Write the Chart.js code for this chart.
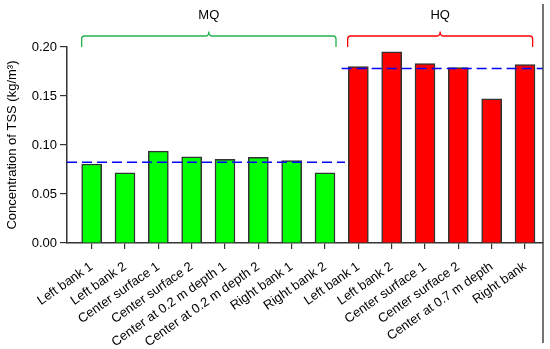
<!DOCTYPE html>
<html>
<head>
<meta charset="utf-8">
<script src="https://cdn.jsdelivr.net/npm/chart.js@4.4.0/dist/chart.umd.min.js"></script>
<style>
  html, body { margin: 0; padding: 0; background: #fff; }
  #wrap { width: 550px; height: 349px; }
</style>
</head>
<body>
<div id="wrap"><canvas id="tssChart" width="550" height="349"></canvas></div>
<script>
// site labels along the x axis
const sites = ['Left bank 1', 'Left bank 2', 'Center surface 1', 'Center surface 2',
  'Center at 0.2 m depth 1', 'Center at 0.2 m depth 2', 'Right bank 1', 'Right bank 2',
  'Left bank 1', 'Left bank 2', 'Center surface 1', 'Center surface 2',
  'Center at 0.7 m depth', 'Right bank'];

// TSS concentration, kg/m3
const mqValues = [0.0806, 0.0717, 0.0937, 0.0880, 0.0854, 0.0874, 0.0840, 0.0716];
const hqValues = [0.180, 0.195, 0.183, 0.179, 0.147, 0.182];

// mean lines (dashed)
const mqMean = 0.0825;
const hqMean = 0.178;

// group spans in category index units
const groupNames = ['MQ', 'HQ'];
const groupStart = [-0.3, 7.68];
const groupEnd = [7.33, 13.23];
const groupColors = ['#22b24c', '#ff0000'];

const yTicks = [0, 0.05, 0.10, 0.15, 0.20];
const xMin = -0.74, xMax = 13.54;

const font = "'Liberation Sans', Arial, sans-serif";

const mqData = mqValues.map((v, i) => ({ x: i, y: v }));
const hqData = hqValues.map((v, i) => ({ x: i + mqValues.length, y: v }));

const extras = {
  id: 'extras',
  afterDraw(chart) {
    const ctx = chart.ctx;
    const xs = chart.scales.x;
    ctx.save();
    // braces with group names
    groupNames.forEach((name, g) => {
      const x1 = xs.getPixelForValue(groupStart[g]);
      const x2 = xs.getPixelForValue(groupEnd[g]);
      const xm = (x1 + x2) / 2;
      const yl = 36, ye = 47, yn = 31.5, r = 3;
      ctx.strokeStyle = groupColors[g];
      ctx.lineWidth = 1.3;
      ctx.beginPath();
      ctx.moveTo(x1, ye);
      ctx.lineTo(x1, yl + r);
      ctx.quadraticCurveTo(x1, yl, x1 + r, yl);
      ctx.lineTo(xm - r, yl);
      ctx.quadraticCurveTo(xm, yl, xm, yn);
      ctx.quadraticCurveTo(xm, yl, xm + r, yl);
      ctx.lineTo(x2 - r, yl);
      ctx.quadraticCurveTo(x2, yl, x2, yl + r);
      ctx.lineTo(x2, ye);
      ctx.stroke();
      ctx.fillStyle = '#000';
      ctx.font = '13px ' + font;
      ctx.textAlign = 'center';
      ctx.textBaseline = 'middle';
      ctx.fillText(name, xm, 15);
    });
    // right edge frame line
    ctx.strokeStyle = '#444';
    ctx.lineWidth = 1.5;
    ctx.beginPath();
    ctx.moveTo(543, 4);
    ctx.lineTo(543, 343);
    ctx.stroke();
    ctx.restore();
  }
};

new Chart(document.getElementById('tssChart'), {
  type: 'bar',
  data: {
    datasets: [
      {
        type: 'line',
        data: [{ x: xMin, y: mqMean }, { x: 7.6, y: mqMean }],
        borderColor: '#0000ff', borderWidth: 1.5, borderDash: [10, 5],
        pointRadius: 0, order: 0
      },
      {
        type: 'line',
        data: [{ x: 7.5, y: hqMean }, { x: xMax, y: hqMean }],
        borderColor: '#0000ff', borderWidth: 1.5, borderDash: [10, 5],
        pointRadius: 0, order: 0
      },
      {
        data: mqData, backgroundColor: '#00ff00', borderColor: '#333',
        borderWidth: 1.5, barThickness: 20, grouped: false, order: 1
      },
      {
        data: hqData, backgroundColor: '#ff0000', borderColor: '#333',
        borderWidth: 1.5, barThickness: 20, grouped: false, order: 1
      }
    ]
  },
  options: {
    responsive: false,
    animation: false,
    layout: { padding: { top: 47, right: 7, left: 0, bottom: 0 } },
    plugins: { legend: { display: false }, tooltip: { enabled: false } },
    scales: {
      x: {
        type: 'linear',
        offset: false,
        min: xMin,
        max: xMax,
        afterBuildTicks(axis) { axis.ticks = sites.map((_, i) => ({ value: i })); },
        afterFit(axis) { axis.height = 106; },
        grid: { drawOnChartArea: false, offset: false, tickLength: 6, color: '#333', lineWidth: 1.2 },
        border: { color: '#333', width: 1.5 },
        ticks: {
          autoSkip: false, maxRotation: 35, minRotation: 35, padding: 10,
          color: '#000', font: { family: font, size: 13 },
          callback: (v) => sites[v]
        }
      },
      y: {
        min: 0,
        max: 0.2,
        afterBuildTicks(axis) { axis.ticks = yTicks.map(v => ({ value: v })); },
        afterFit(axis) { axis.width = 67; },
        grid: { drawOnChartArea: false, tickLength: 7, color: '#333', lineWidth: 1.2 },
        border: { color: '#333', width: 1.5 },
        ticks: {
          padding: 3, color: '#000', font: { family: font, size: 13 },
          callback: (v) => v.toFixed(2)
        },
        title: {
          display: true, text: 'Concentration of TSS (kg/m³)', color: '#000',
          font: { family: font, size: 13 }, padding: { top: 5, bottom: 0 }
        }
      }
    }
  },
  plugins: [extras]
});
</script>
</body>
</html>
